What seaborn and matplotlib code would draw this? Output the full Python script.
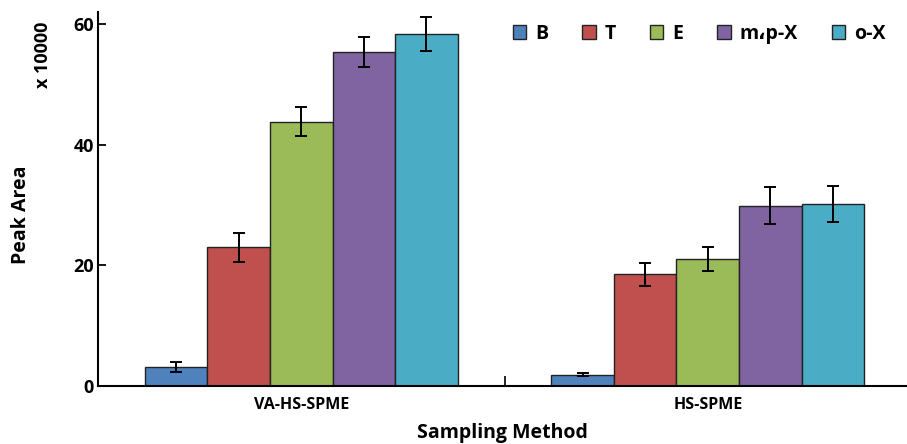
"""
Peak area of BTEX compounds by sampling method (grouped bars with error bars).
"""
import numpy as np
import pandas as pd
import matplotlib
matplotlib.use("Agg")
import matplotlib.pyplot as plt
import seaborn as sns

# Data (peak area, x 10000)
methods = ['VA-HS-SPME', 'HS-SPME']
compounds = ['B', 'T', 'E', 'm\u060cp-X', 'o-X']
va_hs_spme = [3.1, 23.0, 43.8, 55.3, 58.4]
hs_spme = [1.85, 18.5, 21.0, 29.9, 30.2]
va_hs_spme_err = [0.8, 2.4, 2.4, 2.5, 2.85]
hs_spme_err = [0.2, 1.9, 2.0, 3.0, 3.0]
colors = ['#4F81BD', '#C0504D', '#9BBB59', '#8064A2', '#4BACC6']


def build_frame() -> pd.DataFrame:
    """Long-form table for seaborn."""
    rows = []
    for method, vals, errs in [(methods[0], va_hs_spme, va_hs_spme_err),
                               (methods[1], hs_spme, hs_spme_err)]:
        for comp, v, e in zip(compounds, vals, errs):
            rows.append({'method': method, 'compound': comp, 'area': v, 'err': e})
    return pd.DataFrame(rows)


def main():
    df = build_frame()

    sns.set_theme(style='white', rc={'text.color': 'black',
                                     'axes.labelcolor': 'black',
                                     'xtick.color': 'black',
                                     'ytick.color': 'black'})
    plt.rcParams['font.family'] = ['Open Sans', 'DejaVu Sans']
    plt.rcParams['font.weight'] = 'bold'

    fig = plt.figure(figsize=(9.07, 4.44), dpi=100)
    ax = fig.add_axes([0.108, 0.131, 0.892, 0.842])

    sns.barplot(data=df, x='method', y='area', hue='compound', order=methods,
                hue_order=compounds, palette=colors, width=0.77, errorbar=None,
                edgecolor='#222222', linewidth=1.0, saturation=1, ax=ax)

    # error bars at the centre of each drawn bar
    bars = [p for p in ax.patches if p.get_height() > 0]
    for bar in bars:
        cx = bar.get_x() + bar.get_width() / 2
        method = methods[int(round(cx))]
        h = bar.get_height()
        row = df[(df['method'] == method) & (np.isclose(df['area'], h))]
        ax.errorbar(cx, h, yerr=row['err'].iloc[0], color='black', lw=1.4,
                    capsize=4.5, capthick=1.4, zorder=5)

    ax.set_xlim(-0.5, 1.49)
    ax.set_ylim(0, 62)
    ax.set_yticks([0, 20, 40, 60])
    ax.tick_params(axis='y', direction='in', length=6, width=1.3, labelsize=13,
                   pad=3, left=True)
    ax.tick_params(axis='x', which='major', length=0, labelsize=11.5, pad=8)
    ax.set_xticks([0.5], minor=True)
    ax.tick_params(axis='x', which='minor', direction='in', length=7, width=1.2,
                   bottom=True)
    for lab in ax.get_xticklabels() + ax.get_yticklabels():
        lab.set_fontweight('bold')

    sns.despine(ax=ax)
    for side in ['left', 'bottom']:
        ax.spines[side].set_color('black')
        ax.spines[side].set_linewidth(1.5)

    ax.set_xlabel('Sampling Method', fontsize=14, fontweight='bold', labelpad=7)
    ax.set_ylabel('Peak Area', fontsize=14, fontweight='bold')
    ax.yaxis.set_label_coords(-0.083, 0.457)
    fig.text(0.047, 0.876, 'x 10000', rotation=90, fontsize=13,
             fontweight='bold', ha='center', va='center')

    handles, labels = ax.get_legend_handles_labels()
    ax.legend(handles, labels, ncol=5, loc='upper right',
              bbox_to_anchor=(0.995, 1.015), frameon=False,
              handlelength=0.7, handleheight=0.7, handletextpad=0.45,
              columnspacing=1.75, prop={'weight': 'bold', 'size': 14})

    fig.savefig('out.png', dpi=100)


if __name__ == "__main__":
    main()
